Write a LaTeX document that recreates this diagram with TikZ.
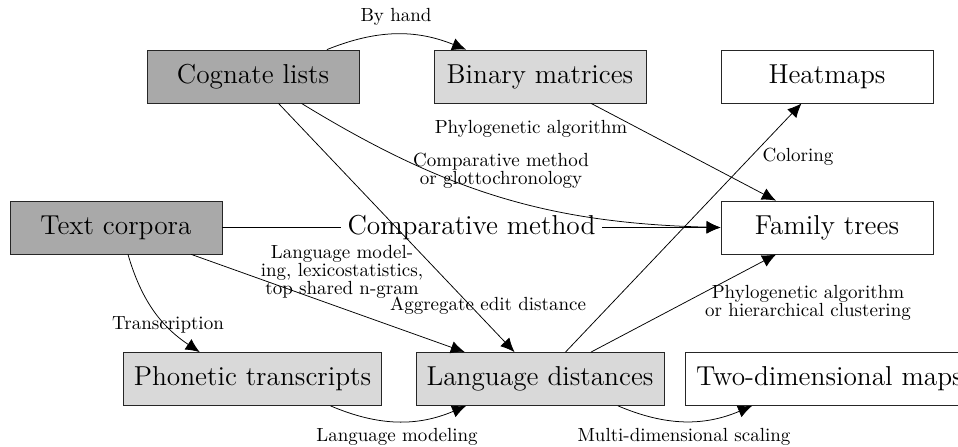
\documentclass[tikz,border=0pt]{standalone}
\usetikzlibrary{arrows.meta}
\definecolor{dgray}{HTML}{A9A9A9}
\definecolor{lgray}{HTML}{D9D9D9}
\begin{document}
\begin{tikzpicture}[x=0.5263pt,y=-0.5263pt,
  box/.style={draw=black!85,rectangle,minimum width=111.6pt,minimum height=27.9pt,inner xsep=5.6pt,font=\Large},
  dark/.style={box,fill=dgray},
  light/.style={box,fill=lgray},
  plain/.style={box,fill=white},
  arr/.style={-{Latex[length=7.4pt,width=6.6pt]},black},
  lbl/.style={inner sep=0pt,align=center,font=\fontsize{10}{9.5}\selectfont},
  biglbl/.style={fill=white,inner sep=3.2pt,font=\Large}]
\useasboundingbox (0,0) rectangle (958,446);
\node[dark]  (cog)  at (253,76.5) {Cognate lists};
\node[light] (bin)  at (540,76.5) {Binary matrices};
\node[plain] (heat) at (827,76.5) {Heatmaps};
\node[dark]  (txt)  at (116,227.5) {Text corpora};
\node[plain] (fam)  at (827,227.5) {Family trees};
\node[light] (phon) at (252.5,379) {Phonetic transcripts};
\node[light] (dist) at (540,379) {Language distances};
\node[plain,anchor=west] (two) at (685,379) {Two-dimensional maps};

\draw[arr] (txt) -- node[biglbl] (cmlbl) {Comparative method} (fam);
\draw[arr] (cog.20) to[bend left=22] (bin.160);
\draw[arr] (bin) -- (fam);
\draw[arr] (cog.-29.4) to[bend right=15] (fam.west);
\draw[arr] (cog) -- (dist);
\draw[arr] (txt) -- (dist);
\draw[arr] (txt.-66) to[bend right=20] (phon.153);
\draw[arr] (phon.-19.6) to[bend right=23] (dist.-160.5);
\draw[arr] (dist) -- (heat);
\draw[arr] (dist) -- (fam);
\draw[arr] (dist.-19.5) to[bend right=23] ([xshift=35.3pt]two.south west);

\node[lbl] (lbyhand) at (396,17) {By hand};
\node[lbl] (lphylo) at (531,129) {Phylogenetic algorithm};
\node[lbl] (lcomp) at (501,171) {Comparative method\\or glottochronology};
\node[lbl] (lcolor) at (798,157) {Coloring};
\node[lbl] (llm) at (342,272) {Language model-\\ing, lexicostatistics,\\top shared n-gram};
\node[lbl] (lagg) at (488,306) {Aggregate edit distance};
\node[lbl] (ltrans) at (168,325) {Transcription};
\node[lbl] (lphylo2) at (808,303) {Phylogenetic algorithm\\or hierarchical clustering};
\node[lbl] (llangmod) at (397,437) {Language modeling};
\node[lbl] (lmds) at (684,437) {Multi-dimensional scaling};
\end{tikzpicture}
\end{document}
